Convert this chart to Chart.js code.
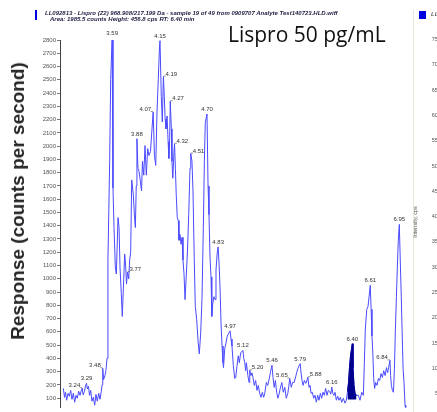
<!DOCTYPE html>
<html>
<head>
<meta charset="utf-8">
<script src="https://cdn.jsdelivr.net/npm/chart.js@4.4.1/dist/chart.umd.min.js"></script>
<style>
  html, body { margin: 0; padding: 0; background: #fff; }
  #wrap { position: relative; width: 437px; height: 412px; overflow: hidden; }
  #chart { position: absolute; left: 0; top: 0; }
  .hdr { position: absolute; font-family: "Liberation Sans", Arial, sans-serif; font-size: 6px;
         font-weight: bold; font-style: italic; color: #1c1c40; white-space: nowrap; line-height: 6px; }
  #ytitle { position: absolute; left: 18px; top: 201px; transform: translate(-50%, -50%) rotate(-90deg);
            font-family: "Liberation Sans", Arial, sans-serif; font-weight: bold; font-size: 19px;
            color: #262626; white-space: nowrap; }
  #title { position: absolute; left: 228px; top: 22px; font-family: "Open Sans", sans-serif;
           font-size: 21px; color: #111; white-space: nowrap; line-height: 24px; }
  .mark { position: absolute; background: #0000e0; }
  #sep { position: absolute; left: 413px; top: 10px; width: 1px; height: 402px; background: #ece8dc; }
  .rt { position: absolute; font-family: "Liberation Sans", Arial, sans-serif; font-size: 5.5px;
        color: #555; white-space: nowrap; text-align: right; width: 20px; line-height: 6px; }
  #rtitle { position: absolute; left: 415px; top: 222px; transform: translate(-50%, -50%) rotate(-90deg);
            font-family: "Liberation Sans", Arial, sans-serif; font-size: 5.5px; color: #555; white-space: nowrap; }
</style>
</head>
<body>
<div id="wrap">
  <canvas id="chart" width="437" height="412"></canvas>
  <div class="mark" style="left:35px; top:10px; width:2px; height:10px;"></div>
  <div class="hdr" style="left:45px; top:10px;">LL092813 - Lispro (Z2) 968.908/217.199 Da - sample 19 of 49 from 0909707 Analyte Test140723.HLD.wiff</div>
  <div class="hdr" style="left:50px; top:16px;">Area: 1985.5 counts Height: 456.8 cps RT: 6.40 min</div>
  <div id="title">Lispro 50 pg/mL</div>
  <div id="ytitle">Response (counts per second)</div>
  <div id="sep"></div>
  <div class="mark" style="left:419px; top:11px; width:7px; height:8px;"></div>
  <div class="hdr" style="left:431px; top:11px; color:#666;">LL</div>
  <div id="rtitle">Intensity, cps</div>
</div>
<script>
// retention time (min) and response (cps)
const times = [
  3.019, 3.033, 3.044, 3.058, 3.074, 3.089, 3.105, 3.120, 3.136, 3.152, 3.167, 3.182, 3.199, 3.214, 3.226,
  3.240, 3.250, 3.266, 3.278, 3.290, 3.300, 3.313, 3.325, 3.339, 3.354, 3.370, 3.386, 3.401, 3.416, 3.433,
  3.448, 3.463, 3.472, 3.480, 3.490, 3.506, 3.518, 3.530, 3.541, 3.561, 3.573, 3.590, 3.600, 3.612, 3.627,
  3.639, 3.659, 3.671, 3.682, 3.697, 3.709, 3.725, 3.737, 3.749, 3.758, 3.770, 3.784, 3.795, 3.807, 3.819,
  3.838, 3.850, 3.862, 3.872, 3.880, 3.892, 3.904, 3.920, 3.934, 3.945, 3.960, 3.975, 3.990, 4.006, 4.021,
  4.039, 4.053, 4.070, 4.085, 4.100, 4.115, 4.130, 4.144, 4.150, 4.165, 4.177, 4.190, 4.200, 4.210, 4.220,
  4.233, 4.245, 4.254, 4.263, 4.270, 4.283, 4.290, 4.300, 4.313, 4.320, 4.330, 4.340, 4.352, 4.364, 4.372,
  4.384, 4.396, 4.408, 4.419, 4.431, 4.443, 4.455, 4.470, 4.486, 4.501, 4.510, 4.524, 4.536, 4.551, 4.563,
  4.579, 4.597, 4.610, 4.626, 4.641, 4.657, 4.669, 4.680, 4.700, 4.712, 4.723, 4.735, 4.747, 4.756, 4.767,
  4.782, 4.794, 4.805, 4.820, 4.830, 4.841, 4.852, 4.864, 4.876, 4.887, 4.893, 4.907, 4.922, 4.937, 4.954,
  4.970, 4.981, 4.992, 5.008, 5.024, 5.036, 5.051, 5.066, 5.078, 5.094, 5.120, 5.130, 5.142, 5.152, 5.161,
  5.178, 5.192, 5.200, 5.214, 5.226, 5.238, 5.253, 5.269, 5.285, 5.300, 5.316, 5.332, 5.347, 5.363, 5.378,
  5.394, 5.410, 5.429, 5.443, 5.460, 5.472, 5.486, 5.500, 5.515, 5.529, 5.543, 5.557, 5.575, 5.592, 5.610,
  5.627, 5.645, 5.657, 5.668, 5.686, 5.700, 5.720, 5.737, 5.749, 5.763, 5.778, 5.790, 5.800, 5.812, 5.824,
  5.839, 5.855, 5.868, 5.880, 5.894, 5.906, 5.917, 5.932, 5.948, 5.964, 5.979, 5.995, 6.010, 6.026, 6.041,
  6.057, 6.072, 6.088, 6.104, 6.119, 6.135, 6.148, 6.160, 6.172, 6.186, 6.198, 6.213, 6.229, 6.244, 6.260,
  6.276, 6.295, 6.314, 6.330, 6.344, 6.356, 6.367, 6.379, 6.400, 6.408, 6.420, 6.432, 6.449, 6.470, 6.490,
  6.510, 6.529, 6.541, 6.552, 6.569, 6.584, 6.610, 6.620, 6.630, 6.640, 6.650, 6.661, 6.673, 6.689, 6.705,
  6.720, 6.736, 6.752, 6.767, 6.784, 6.799, 6.813, 6.825, 6.840, 6.848, 6.857, 6.869, 6.881, 6.893, 6.904,
  6.916, 6.928, 6.938, 6.950, 6.962, 6.973, 6.982, 6.994, 7.005, 7.017, 7.025
];
const response = [
  173, 106, 144, 84, 136, 114, 158, 91, 136, 69, 121, 99, 151, 121, 150,
  175, 125, 150, 190, 212, 170, 190, 121, 158, 77, 106, 47, 128, 77, 136,
  91, 151, 200, 325, 240, 270, 310, 400, 1140, 1885, 2502, 2815, 1684, 1386, 1088,
  1036, 1461, 1386, 1088, 888, 716, 992, 1186, 1088, 960, 1050, 1000, 1141, 1200, 1745,
  1632, 1483, 1386, 1700, 2056, 1833, 1811, 1736, 1662, 1885, 1781, 2004, 1781, 1981, 1929,
  1960, 2100, 2257, 1929, 1855, 2257, 2502, 2748, 2795, 2376, 2182, 2524, 2376, 2204, 2130,
  2227, 2033, 1907, 2056, 2338, 2130, 1885, 1758, 1950, 2018, 1833, 1632, 1461, 1439, 1290,
  1334, 1260, 1312, 1141, 1036, 843, 992, 1186, 1483, 1833, 1944, 1885, 1662, 1141, 791,
  694, 516, 434, 590, 843, 1386, 1885, 2180, 2242, 1700, 1483, 1163, 1014, 716, 813,
  865, 843, 1066, 1200, 1240, 1111, 940, 664, 493, 367, 330, 471, 516, 568, 590,
  607, 545, 493, 345, 248, 255, 345, 419, 367, 441, 460, 400, 367, 307, 367,
  270, 218, 310, 270, 290, 255, 196, 233, 158, 196, 136, 106, 144, 106, 144,
  218, 196, 248, 300, 347, 255, 181, 233, 144, 99, 130, 173, 218, 144, 181,
  99, 136, 190, 248, 181, 218, 218, 260, 292, 322, 345, 360, 290, 233, 196,
  233, 211, 230, 257, 181, 196, 136, 144, 99, 121, 69, 121, 84, 136, 99,
  144, 121, 173, 121, 158, 150, 130, 183, 136, 121, 144, 84, 114, 84, 106,
  69, 99, 62, 84, 150, 218, 330, 420, 510, 330, 196, 136, 121, 121, 84,
  144, 121, 367, 620, 769, 791, 950, 769, 568, 441, 248, 173, 218, 196, 248,
  233, 285, 255, 307, 270, 330, 292, 330, 385, 270, 196, 158, 144, 322, 620,
  865, 1111, 1290, 1410, 1111, 865, 620, 322, 218, 47, 10
];

// labelled apexes and where the label sits (l = left of apex, r = right, c = centred)
const peakTimes  = [3.24, 3.29, 3.48, 3.59, 3.77, 3.88, 4.07, 4.15, 4.19, 4.27, 4.32, 4.51, 4.70,
                    4.83, 4.97, 5.12, 5.20, 5.46, 5.668, 5.79, 5.88, 6.16, 6.40, 6.61, 6.84, 6.95];
const peakLabels = ["3.24", "3.29", "3.48", "3.59", "3.77", "3.88", "4.07", "4.15", "4.19", "4.27", "4.32", "4.51", "4.70",
                    "4.83", "4.97", "5.12", "5.20", "5.46", "5.65", "5.79", "5.88", "6.16", "6.40", "6.61", "6.84", "6.95"];
const peakSide   = ["l", "c", "l", "c", "r", "c", "l", "c", "r", "r", "r", "r", "c",
                    "c", "c", "c", "r", "c", "l", "c", "r", "c", "c", "c", "l", "c"];

// integrated peak (RT 6.40)
const areaStart = 6.344;
const areaEnd = 6.449;
const areaBase = 90;

const yTicks = [100, 200, 300, 400, 500, 600, 700, 800, 900, 1000, 1100, 1200, 1300, 1400,
                1500, 1600, 1700, 1800, 1900, 2000, 2100, 2200, 2300, 2400, 2500, 2600, 2700, 2800];
const rightTicks = [750, 700, 650, 600, 550, 500, 450, 400, 350, 300, 250, 200, 150, 100, 50];

const trace = times.map((t, i) => ({ x: t, y: response[i] }));
const areaPts = trace.filter(p => p.x >= areaStart && p.x <= areaEnd);

// right hand (cropped) panel tick labels
const wrap = document.getElementById("wrap");
rightTicks.forEach((v, i) => {
    const d = document.createElement("div");
    d.className = "rt";
    d.textContent = v;
    d.style.left = "421px";
    d.style.top = (36 + i * 25.3) + "px";
    wrap.appendChild(d);
});

const peakLabelPlugin = {
    id: "peakLabels",
    afterDatasetsDraw(chart) {
        const ctx = chart.ctx;
        const xs = chart.scales.x, ys = chart.scales.y;
        ctx.save();
        ctx.font = "6px 'Liberation Sans', Arial, sans-serif";
        ctx.fillStyle = "#333";
        ctx.strokeStyle = "#555";
        ctx.lineWidth = 0.6;
        peakTimes.forEach((t, i) => {
            let best = trace[0];
            trace.forEach(p => { if (Math.abs(p.x - t) < Math.abs(best.x - t)) best = p; });
            const px = xs.getPixelForValue(best.x);
            const py = ys.getPixelForValue(best.y);
            if (peakSide[i] === "c") {
                ctx.textAlign = "center";
                ctx.fillText(peakLabels[i], px, py - 3);
            } else if (peakSide[i] === "l") {
                ctx.textAlign = "right";
                ctx.fillText(peakLabels[i], px - 2, py - 1);
                ctx.beginPath(); ctx.moveTo(px - 2.5, py - 0.5); ctx.lineTo(px, py - 0.5); ctx.stroke();
            } else {
                ctx.textAlign = "left";
                ctx.fillText(peakLabels[i], px + 2, py - 1);
                ctx.beginPath(); ctx.moveTo(px, py - 0.5); ctx.lineTo(px + 2.5, py - 0.5); ctx.stroke();
            }
        });
        ctx.restore();
    }
};

new Chart(document.getElementById("chart"), {
    type: "line",
    data: {
        datasets: [
            {
                data: areaPts,
                borderColor: "#00008c",
                backgroundColor: "#00008c",
                borderWidth: 1,
                pointRadius: 0,
                fill: { value: areaBase }
            },
            {
                data: trace,
                borderColor: "#4a4aff",
                borderWidth: 1,
                pointRadius: 0,
                fill: false
            }
        ]
    },
    options: {
        responsive: false,
        animation: false,
        devicePixelRatio: 1,
        layout: { padding: { left: 0, right: 24, top: 40, bottom: 0 } },
        plugins: { legend: { display: false }, tooltip: { enabled: false } },
        scales: {
            x: { type: "linear", min: 2.98, max: 7.11, display: false },
            y: {
                min: 30,
                max: 2800,
                afterBuildTicks: scale => { scale.ticks = yTicks.map(v => ({ value: v })); },
                afterFit: scale => { scale.width = 60; },
                ticks: {
                    font: { size: 6, family: "'Liberation Sans', Arial, sans-serif" },
                    color: "#555",
                    padding: 1,
                    callback: v => String(v)
                },
                grid: { drawOnChartArea: false, tickLength: 3, color: "#777" },
                border: { display: true, color: "#444", width: 1 }
            }
        }
    },
    plugins: [peakLabelPlugin]
});
</script>
</body>
</html>
